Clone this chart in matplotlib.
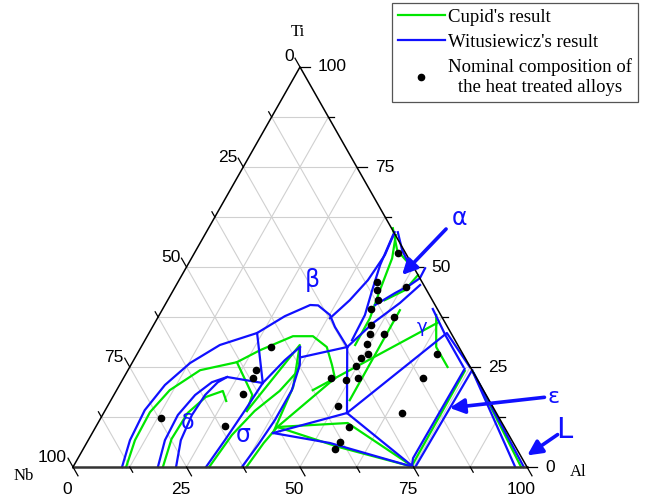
import matplotlib.pyplot as plt
from matplotlib.transforms import Affine2D
from matplotlib.lines import Line2D

# compositions in at.% : (Al, Ti), Nb = 100 - Al - Ti
dot_al = [13.2, 28.3, 28.3, 28.5, 28.3, 28.5, 45.7, 49.2, 51.7, 49.7, 49.8, 50.8, 49.3, 48.8, 51.8,
          47.8, 52.0, 45.8, 46.4, 44.8, 43.8, 50.9, 44.7, 66.0, 65.9, 50.7, 65.7, 55.8, 55.7, 55.5]
dot_ti = [12.2, 10.3, 18.2, 22.2, 24.2, 30.1, 22.2, 21.7, 22.2, 25.3, 27.3, 28.2, 30.7, 33.2, 33.2,
          35.6, 37.6, 39.6, 41.7, 44.2, 46.2, 45.1, 53.6, 28.2, 22.2, 15.3, 13.4, 10.1, 6.2, 4.5]

# Witusiewicz's assessment
blue_lines = [
    [(10.8, 0), (9.2, 6.7), (8.7, 14.2), (10.0, 20.5), (12.8, 26.0), (17.1, 30.5), (23.8, 33.5),
     (27.8, 37.7), (32.0, 40.5), (33.8, 40.4), (37.6, 38.0), (40.2, 35.0), (45.4, 30.0)],
    [(23.8, 33.5), (31.3, 21.0)],
    [(18.7, 0), (16.9, 6.7), (16.6, 13.0), (17.9, 18.0), (20.0, 21.2), (22.7, 22.5), (31.3, 21.0)],
    [(22.7, 0), (20.4, 6.7), (19.7, 13.0), (20.1, 18.0), (21.3, 21.2), (22.7, 22.5)],
    [(29.3, 0), (30.1, 6.7), (30.8, 14.2), (31.3, 21.0), (33.3, 26.7), (35.0, 30.0)],
    [(37.2, 0), (38.0, 5.5), (38.6, 11.7), (38.6, 19.2), (37.2, 25.5), (35.0, 30.0)],
    [(36.7, 27.5), (45.4, 30.0)],
    [(45.4, 30.0), (53.6, 13.5)],
    [(39.8, 8.5), (53.6, 13.5), (75.0, 0)],
    [(39.8, 8.5), (53.6, 6.0), (75.0, 0)],
    [(53.6, 13.5), (65.6, 33.5), (74.9, 25.0)],
    [(74.6, 0), (73.8, 2.2), (74.0, 24.5)],
    [(75.4, 0), (75.8, 24.2)],
    [(75.8, 24.2), (97.4, 0)],
    [(76.6, 23.4), (99.3, 0)],
    [(59.5, 39.5), (65.5, 33.0), (73.5, 25.0)],
    [(45.4, 30.0), (48.1, 36.0), (51.5, 41.0), (53.7, 45.5)],
    [(45.6, 31.7), (45.3, 38.0), (43.8, 44.2), (42.4, 50.5), (41.5, 58.0)],
    [(38.0, 37.2), (40.1, 41.7), (41.6, 46.7), (42.2, 53.0), (41.5, 58.7)],
    [(46.3, 40.5), (49.2, 43.5), (51.5, 45.5), (52.8, 47.2), (52.7, 49.7)],
    [(42.2, 58.7), (45.4, 54.2), (48.2, 51.2), (50.5, 49.7)],
]

# Cupid's assessment
green_lines = [
    [(11.7, 0), (10.3, 6.7), (10.1, 13.7), (11.7, 19.2), (15.9, 24.2), (23.0, 26.2), (26.6, 29.2),
     (32.1, 32.7), (36.5, 32.7), (40.9, 30.0), (44.3, 25.5), (46.6, 22.2)],
    [(23.0, 26.2), (30.5, 18.0), (31.3, 14.0)],
    [(31.3, 14.0), (34.7, 30.5), (38.5, 20.0), (39.8, 8.5)],
    [(19.8, 0), (18.2, 7.0), (18.5, 13.5), (20.5, 17.5), (23.5, 19.0), (25.5, 16.5)],
    [(30.0, 0), (31.0, 8.0), (33.0, 14.0), (36.0, 19.0), (37.5, 24.0), (36.5, 27.0)],
    [(38.2, 0), (39.0, 6.0), (40.0, 10.0), (46.6, 22.2)],
    [(40.0, 10.0), (56.0, 5.0), (75.0, 0)],
    [(40.0, 10.0), (55.0, 11.0), (75.0, 0)],
    [(43.2, 19.2), (62.2, 36.0)],
    [(52.6, 16.7), (52.4, 39.2)],
    [(74.5, 0), (74.3, 24.0)],
    [(76.2, 23.8), (98.7, 0)],
    [(61.0, 38.0), (65.0, 30.0), (70.0, 25.0)],
    [(46.9, 30.5), (46.8, 37.2), (45.5, 44.2), (44.2, 52.2), (42.1, 58.0)],
    [(47.8, 41.7), (51.0, 44.2), (52.0, 48.0)],
    [(40.6, 59.7), (44.3, 54.2), (49.0, 50.5)],
]

al_ticks = [0, 25, 50, 75, 100]

fig = plt.figure(figsize=(6.48, 4.98), dpi=100)
ax = fig.add_axes([73 / 648, 31 / 498, 454 / 648, 400 / 498])
ax.set_xlim(0, 100)
ax.set_ylim(0, 100)
ax.axis('off')
tern = Affine2D([[1, 0.5, 0], [0, 1, 0], [0, 0, 1]]) + ax.transData


def tplot(pts, **kw):
    ax.plot([p[0] for p in pts], [p[1] for p in pts], transform=tern, clip_on=False, **kw)


# grid
for k in range(1, 8):
    v = 12.5 * k
    tplot([(0, v), (100 - v, v)], color='#d0d0d0', lw=0.8)
    tplot([(v, 0), (v, 100 - v)], color='#d0d0d0', lw=0.8)
    tplot([(100 - v, 0), (0, 100 - v)], color='#d0d0d0', lw=0.8)

for ln in green_lines:
    tplot(ln, color='#00e600', lw=1.6)
for ln in blue_lines:
    tplot(ln, color='#1010ff', lw=1.6)

ax.plot(dot_al, dot_ti, 'o', color='black', ms=4.5, transform=tern, clip_on=False)

# frame
tplot([(0, 0), (100, 0)], color='#333333', lw=1.8)
tplot([(0, 0), (0, 100), (100, 0)], color='black', lw=1.1)

# ticks
for k in range(9):
    v = 12.5 * k
    ln = 2.2 if k % 2 == 0 else 1.3
    tplot([(v, 0), (v + ln, -ln)], color='black', lw=0.9)          # Al axis
    tplot([(100 - v, v), (100 - v + ln, v)], color='black', lw=0.9)  # Ti axis
    tplot([(0, 100 - v), (-ln, 100 - v + ln)], color='black', lw=0.9)  # Nb axis

tick_font = dict(fontsize=12.5, family='Liberation Sans')
for t in al_ticks:
    ax.annotate(str(t), xy=(t, 0), xycoords=tern, xytext=(-6, -22), textcoords='offset pixels',
                ha='center', va='center', **tick_font)
    ax.annotate(str(t), xy=(100 - t, t), xycoords=tern, xytext=(18, 0),
                textcoords='offset pixels', ha='left', va='center', **tick_font)
    ax.annotate(str(t), xy=(0, 100 - t), xycoords=tern, xytext=(-6, 10),
                textcoords='offset pixels', ha='right', va='center', **tick_font)

serif = 'Liberation Serif'
fig.text(298 / 648, 1 - 32 / 498, 'Ti', fontsize=12, family=serif, ha='center', va='center')
fig.text(24 / 648, 1 - 476 / 498, 'Nb', fontsize=12, family=serif, ha='center', va='center')
fig.text(578 / 648, 1 - 472 / 498, 'Al', fontsize=12, family=serif, ha='center', va='center')

# phase labels
blue = '#1010ff'
lab = dict(color=blue, family='DejaVu Sans', transform=tern, ha='center', va='center')
ax.text(29.3, 46.7, 'β', fontsize=17, **lab)
ax.text(54.1, 62.2, 'α', fontsize=17, **lab)
ax.text(59.4, 35.0, 'γ', fontsize=13, **lab)
ax.text(19.8, 11.0, 'δ', fontsize=16, **lab)
ax.text(33.4, 8.0, 'σ', fontsize=17, **lab)
ax.text(97.0, 17.5, 'ε', fontsize=16, **lab)
ax.text(103.7, 9.2, 'L', fontsize=21, **lab)

arrow = dict(arrowstyle='-|>', color=blue, lw=2.6, mutation_scale=22)
ax.annotate('', xy=(48.3, 47.5), xycoords=tern, xytext=(52.6, 60.0), textcoords=tern, arrowprops=arrow)
ax.annotate('', xy=(75.0, 14.7), xycoords=tern, xytext=(95.7, 17.5), textcoords=tern, arrowprops=arrow)
ax.annotate('', xy=(98.3, 2.5), xycoords=tern, xytext=(103.0, 8.5), textcoords=tern, arrowprops=arrow)

handles = [Line2D([], [], color='#00e600', lw=1.6),
           Line2D([], [], color='#1010ff', lw=1.6),
           Line2D([], [], ls='none', marker='o', color='black', ms=4.5)]
labels = ["Cupid's result", "Witusiewicz's result", 'Nominal composition of\nthe heat treated alloys']
leg = fig.legend(handles, labels, loc='upper right', bbox_to_anchor=(638 / 648, 1 - 3 / 498),
                 borderaxespad=0, fancybox=False, edgecolor='#555555', framealpha=1,
                 prop={'family': serif, 'size': 13.5}, handlelength=2.5, handletextpad=0.2,
                 labelspacing=0.42, borderpad=0.3)
leg.get_frame().set_linewidth(0.9)
for t in leg.get_texts():
    t.set_multialignment('center')

fig.savefig('out.png', dpi=100)
